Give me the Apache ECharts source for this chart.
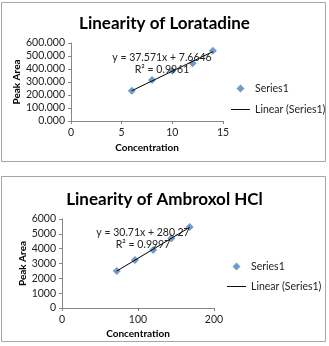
<!DOCTYPE html>
<html>
<head>
<meta charset="utf-8">
<script src="https://cdn.jsdelivr.net/npm/echarts@6/dist/echarts.min.js"></script>
<style>
  html, body { margin: 0; padding: 0; background: #fff; }
  #chart { width: 329px; height: 346px; }
</style>
</head>
<body>
<div id="chart"></div>
<script>
// Loratadine: concentration vs peak area
const loraConc = [6, 8, 10, 12, 14];
const loraArea = [233, 315, 387, 444, 540];
const loraTrend = [[6, 233.1], [14, 533.7]];
const loraEq = ['y = 37.571x + 7.6646', 'R² = 0.9961'];

// Ambroxol HCl
const ambConc = [72, 96, 120, 144, 168];
const ambArea = [2495, 3236, 3910, 4700, 5460];
const ambTrend = [[72, 2491], [168, 5439]];
const ambEq = ['y = 30.71x + 280.27', 'R² = 0.9997'];

const font = 'Lato, "Open Sans", sans-serif';
const blue = '#4f81bd';
const diamond = 'path://M5,0L10,5L5,10L0,5Z';
const dash = 'path://M0,0L20,0L20,1L0,1Z';

function pairs(xs, ys) {
  return xs.map((x, i) => [x, ys[i]]);
}

function axisX(idx, max, interval, gap) {
  return {
    type: 'value', gridIndex: idx, min: 0, max: max, interval: interval,
    name: 'Concentration', nameLocation: 'middle', nameGap: gap,
    nameTextStyle: { fontFamily: font, fontWeight: 'bold', fontSize: 10, color: '#000' },
    axisLine: { show: true, lineStyle: { color: '#868686' } },
    axisTick: { show: true, length: 3, lineStyle: { color: '#868686' } },
    axisLabel: { fontFamily: font, fontSize: 10.5, color: '#222', margin: 6 },
    splitLine: { show: false }
  };
}

function axisY(idx, max, interval, gap, digits) {
  return {
    type: 'value', gridIndex: idx, min: 0, max: max, interval: interval,
    name: 'Peak Area', nameLocation: 'middle', nameGap: gap, nameRotate: 90,
    nameTextStyle: { fontFamily: font, fontWeight: 'bold', fontSize: 10, color: '#000' },
    axisLine: { show: true, lineStyle: { color: '#868686' } },
    axisTick: { show: true, length: 3, lineStyle: { color: '#868686' } },
    axisLabel: { fontFamily: font, fontSize: 10.5, color: '#222', margin: 6,
      formatter: v => v.toFixed(digits) },
    splitLine: { show: false }
  };
}

function eqText(lines, x, y) {
  return lines.map((t, i) => ({
    type: 'text', x: x, y: y + i * 12, z: 10,
    style: { text: t, fontFamily: font, fontSize: 10.5, fill: '#222',
      align: 'center', verticalAlign: 'middle' }
  }));
}

function legendAt(left, top, gap) {
  return {
    left: left, top: top, orient: 'vertical', padding: 0,
    itemGap: gap, itemWidth: 19, itemHeight: 8,
    textStyle: { fontFamily: font, fontSize: 10.5, color: '#222' },
    data: [{ name: 'Series1', icon: diamond }, { name: 'Linear (Series1)', icon: dash }]
  };
}

const chart = echarts.init(document.getElementById('chart'));
chart.setOption({
  animation: false,
  backgroundColor: '#fff',
  title: [
    { text: 'Linearity of Loratadine', left: 'center', top: 10,
      textStyle: { fontFamily: font, fontWeight: 'bold', fontSize: 17, color: '#000' } },
    { text: 'Linearity of Ambroxol HCl', left: 'center', top: 186,
      textStyle: { fontFamily: font, fontWeight: 'bold', fontSize: 17, color: '#000' } }
  ],
  legend: [legendAt(231, 83, 10), legendAt(227, 261, 9)],
  grid: [
    { left: 71, top: 43, width: 152, height: 78 },
    { left: 62, top: 219, width: 152, height: 89 }
  ],
  xAxis: [axisX(0, 15, 5, 22), axisX(1, 200, 100, 21)],
  yAxis: [axisY(0, 600, 100, 45, 3), axisY(1, 6000, 1000, 33, 0)],
  graphic: [
    { type: 'rect', shape: { x: 1.5, y: 2.5, width: 324, height: 159 },
      style: { fill: 'none', stroke: '#a6a6a6', lineWidth: 1 } },
    { type: 'rect', shape: { x: 1.5, y: 176.5, width: 324, height: 165 },
      style: { fill: 'none', stroke: '#a6a6a6', lineWidth: 1 } }
  ].concat(eqText(loraEq, 162, 58), eqText(ambEq, 143, 233)),
  series: [
    { name: 'Series1', type: 'scatter', xAxisIndex: 0, yAxisIndex: 0,
      symbol: 'diamond', symbolSize: 8, itemStyle: { color: blue },
      data: pairs(loraConc, loraArea) },
    { name: 'Linear (Series1)', type: 'line', xAxisIndex: 0, yAxisIndex: 0,
      symbol: 'none', lineStyle: { color: '#000', width: 1 }, itemStyle: { color: '#000' },
      data: loraTrend },
    { name: 'Series1', type: 'scatter', xAxisIndex: 1, yAxisIndex: 1,
      symbol: 'diamond', symbolSize: 8, itemStyle: { color: blue },
      data: pairs(ambConc, ambArea) },
    { name: 'Linear (Series1)', type: 'line', xAxisIndex: 1, yAxisIndex: 1,
      symbol: 'none', lineStyle: { color: '#000', width: 1 }, itemStyle: { color: '#000' },
      data: ambTrend }
  ]
});
</script>
</body>
</html>
